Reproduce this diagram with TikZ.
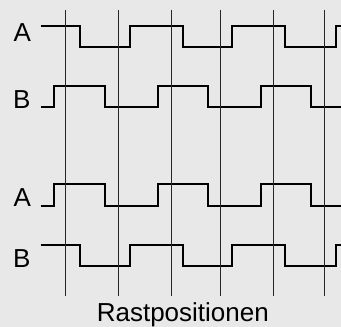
\documentclass[tikz,border=0pt]{standalone}
\usepackage{fontspec}
\setmainfont{Liberation Sans}
\definecolor{bg}{HTML}{E8E8E8}
\begin{document}
\begin{tikzpicture}[x=1pt,y=-1pt,
  wave/.style={line width=2pt, line join=miter, black},
  gridline/.style={line width=0.9pt, black!85},
  lbl/.style={inner sep=0pt, anchor=base west, font=\fontsize{26}{30}\selectfont},
  captiontext/.style={inner sep=0pt, anchor=base, font=\fontsize{26}{30}\selectfont}]
\fill[bg] (0,0) rectangle (341,327);
\useasboundingbox (0,0) rectangle (341,327);
% waveforms
\draw[wave] (40.7,25.7) -- (79.7,25.7) -- (79.7,47) -- (130.3,47) -- (130.3,25.7) -- (183.3,25.7) -- (183.3,47) -- (232.3,47) -- (232.3,25.7) -- (285.3,25.7) -- (285.3,47) -- (336,47) -- (336,25.7) -- (342,25.7);
\draw[wave] (40.7,107.3) -- (54,107.3) -- (54,86.3) -- (105.3,86.3) -- (105.3,107.3) -- (158,107.3) -- (158,86.3) -- (208,86.3) -- (208,107.3) -- (260.7,107.3) -- (260.7,86.3) -- (311,86.3) -- (311,107.3) -- (342,107.3);
\draw[wave] (40.7,205.7) -- (54,205.7) -- (54,184.3) -- (105.3,184.3) -- (105.3,205.7) -- (158,205.7) -- (158,184.3) -- (208,184.3) -- (208,205.7) -- (260.7,205.7) -- (260.7,184.3) -- (311,184.3) -- (311,205.7) -- (342,205.7);
\draw[wave] (40.7,245) -- (79.7,245) -- (79.7,266.3) -- (130.3,266.3) -- (130.3,245) -- (183.3,245) -- (183.3,266.3) -- (232.3,266.3) -- (232.3,245) -- (285.3,245) -- (285.3,266.3) -- (336,266.3) -- (336,245) -- (342,245);
% detent position lines
\foreach \x in {65.7,118.7,171.7,220,273,324}
  \draw[gridline] (\x,10) -- (\x,295.7);
% labels
\node[lbl] (a1) at (13.3,41) {A};
\node[lbl] (b1) at (13,108.3) {B};
\node[lbl] (a2) at (13.3,206.7) {A};
\node[lbl] (b2) at (13,267.7) {B};
\node[captiontext] (rast) at (182.8,321.5) {Rastpositionen};
\end{tikzpicture}
\end{document}
